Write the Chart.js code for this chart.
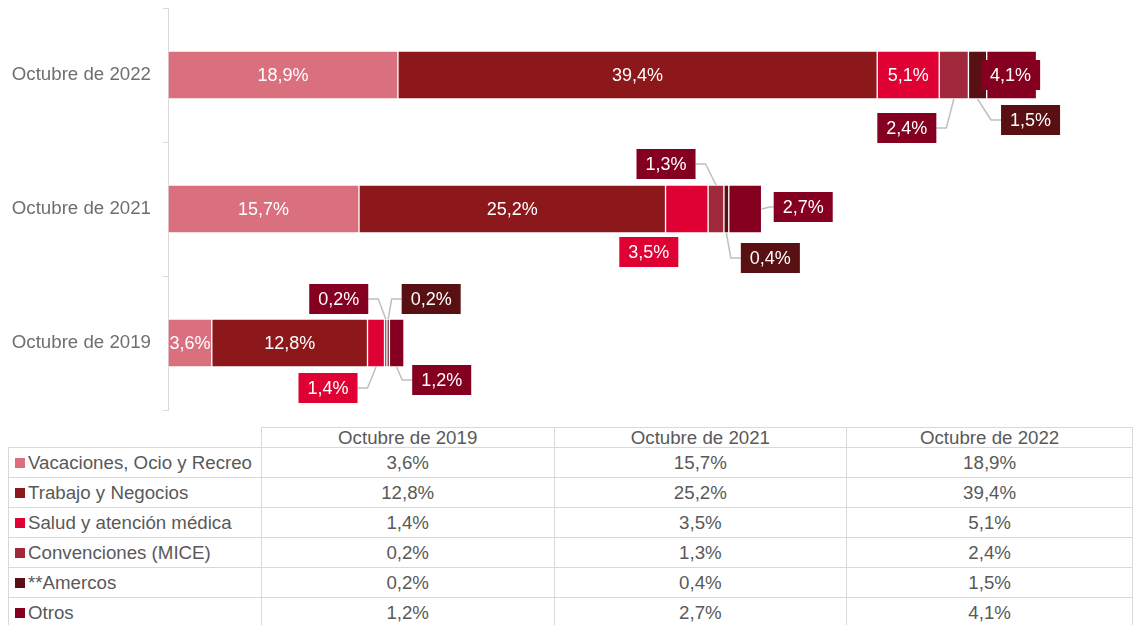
<!DOCTYPE html>
<html>
<head>
<meta charset="utf-8">
<script src="https://cdn.jsdelivr.net/npm/chart.js@4/dist/chart.umd.min.js"></script>
<style>
  body { margin: 0; background: #fff; font-family: "Liberation Sans", Arial, sans-serif; }
  #wrap { position: relative; width: 1133px; height: 625px; overflow: hidden; }
  #chartBox { position: absolute; left: 0; top: 0; width: 1133px; height: 412px; }
  #tbl { position: absolute; left: 8px; top: 427px; border-collapse: collapse; table-layout: fixed;
         font-size: 18.7px; color: #595959; }
  #tbl td { border: 1px solid #d9d9d9; padding: 0; text-align: center; white-space: nowrap; }
  #tbl tr.head td { height: 19px; line-height: 19px; }
  #tbl tr.row td { height: 29px; line-height: 29px; }
  #tbl td.name { text-align: left; padding-left: 6px; }
  #tbl td.blank { border-top: none; border-left: none; }
  .sw { display: inline-block; width: 10px; height: 10px; margin-right: 3px; vertical-align: 1px; }
</style>
</head>
<body>
<div id="wrap">
  <div id="chartBox"><canvas id="chart" width="1133" height="412"></canvas></div>
  <table id="tbl"></table>
</div>
<script>
// periods, in table order
const periods = ['Octubre de 2019', 'Octubre de 2021', 'Octubre de 2022'];

const seriesNames = [
    'Vacaciones, Ocio y Recreo',
    'Trabajo y Negocios',
    'Salud y atención médica',
    'Convenciones (MICE)',
    '**Amercos',
    'Otros'
];

const vacaciones   = [3.6, 15.7, 18.9];
const trabajo      = [12.8, 25.2, 39.4];
const salud        = [1.4, 3.5, 5.1];
const convenciones = [0.2, 1.3, 2.4];
const amercos      = [0.2, 0.4, 1.5];
const otros        = [1.2, 2.7, 4.1];

const seriesValues = [vacaciones, trabajo, salud, convenciones, amercos, otros];

const colors    = ['#da707e', '#8c181c', '#df0034', '#a0283a', '#581012', '#850020'];
const boxColors = [null, null, '#df0034', '#850020', '#581012', '#850020'];

// callout offsets from segment centre (null = label drawn inside the bar)
// per series, in period order 2019, 2021, 2022
const calloutOffsets = [
    [null, null, null],
    [null, null, null],
    [{dx: -48, dy: 45, line: true}, {dx: -38, dy: 43, line: false}, null],
    [{dx: -47, dy: -44, line: true}, {dx: -50, dy: -45, line: true}, {dx: -47, dy: 53, line: true}],
    [{dx: 43, dy: -44, line: true}, {dx: 44, dy: 49, line: true}, {dx: 53, dy: 45, line: true}],
    [{dx: 45, dy: 37, line: true}, {dx: 58, dy: -2, line: true}, {dx: -1, dy: 0, line: false}]
];

const fmt = v => v.toFixed(1).replace('.', ',') + '%';
const FONT = '"Liberation Sans", Arial, sans-serif';

// chart shows newest on top
const chartLabels = periods.slice().reverse();

const datasets = seriesNames.map((name, i) => ({
    label: name,
    data: seriesValues[i].slice().reverse(),
    backgroundColor: colors[i],
    borderColor: 'rgba(255,255,255,0.35)',
    borderWidth: 1,
    borderSkipped: false,
    barThickness: 48
}));

const labelPlugin = {
    id: 'labels',
    afterDatasetsDraw(chart) {
        const ctx = chart.ctx;
        ctx.save();
        ctx.font = '18px ' + FONT;
        ctx.textAlign = 'center';
        ctx.textBaseline = 'middle';
        chart.data.datasets.forEach((ds, i) => {
            const meta = chart.getDatasetMeta(i);
            meta.data.forEach((el, j) => {
                const p = periods.length - 1 - j; // period index
                const text = fmt(seriesValues[i][p]);
                const cx = (el.x + el.base) / 2;
                const cy = el.y;
                const off = calloutOffsets[i][p];
                if (!off) {
                    ctx.fillStyle = '#ffffff';
                    ctx.fillText(text, cx, cy + 1);
                    return;
                }
                const bx = cx + off.dx, by = cy + off.dy;
                const w = ctx.measureText(text).width + 18, h = 30;
                if (off.line) {
                    ctx.strokeStyle = '#bfbfbf';
                    ctx.lineWidth = 1.5;
                    ctx.beginPath();
                    if (Math.abs(off.dy) < 20) {
                        ctx.moveTo(el.x, cy);
                        ctx.lineTo(bx - w / 2 - 4, by);
                        ctx.lineTo(bx - w / 2, by);
                    } else {
                        const sy = off.dy > 0 ? cy + el.height / 2 : cy - el.height / 2;
                        const ex = off.dx < 0 ? bx + w / 2 : bx - w / 2;
                        const elbow = off.dx < 0 ? ex + 10 : ex - 10;
                        ctx.moveTo(cx, sy);
                        ctx.lineTo(elbow, by);
                        ctx.lineTo(ex, by);
                    }
                    ctx.stroke();
                }
                ctx.fillStyle = boxColors[i];
                ctx.fillRect(bx - w / 2, by - h / 2, w, h);
                ctx.fillStyle = '#ffffff';
                ctx.fillText(text, bx, by + 1);
            });
        });
        ctx.restore();
    }
};

new Chart(document.getElementById('chart'), {
    type: 'bar',
    data: { labels: chartLabels, datasets: datasets },
    options: {
        indexAxis: 'y',
        responsive: false,
        animation: false,
        devicePixelRatio: 1,
        layout: { padding: { top: 8, bottom: 2, right: 4, left: 0 } },
        plugins: { legend: { display: false }, tooltip: { enabled: false } },
        scales: {
            x: { stacked: true, display: false, min: 0, max: 79 },
            y: {
                stacked: true,
                afterFit(scale) {
                    scale.width = 168;
                    scale.paddingTop = 0;
                    scale.paddingBottom = 0;
                },
                grid: { display: true, drawOnChartArea: false, offset: true, tickLength: 5, color: '#d9d9d9' },
                border: { display: true, color: '#d9d9d9', width: 1 },
                ticks: { color: '#6f6f6f', padding: 12, font: { family: FONT, size: 18.7 } }
            }
        }
    },
    plugins: [labelPlugin]
});

// data table below the chart
const tbl = document.getElementById('tbl');
const colW = [253, 295, 295, 288];
let html = '<colgroup>' + colW.map(w => '<col style="width:' + w + 'px">').join('') + '</colgroup>';
html += '<tr class="head"><td class="blank"></td>' + periods.map(p => '<td>' + p + '</td>').join('') + '</tr>';
seriesNames.forEach((name, i) => {
    html += '<tr class="row"><td class="name"><span class="sw" style="background:' + colors[i] + '"></span>' + name + '</td>';
    html += seriesValues[i].map(v => '<td>' + fmt(v) + '</td>').join('') + '</tr>';
});
tbl.innerHTML = html;
</script>
</body>
</html>
